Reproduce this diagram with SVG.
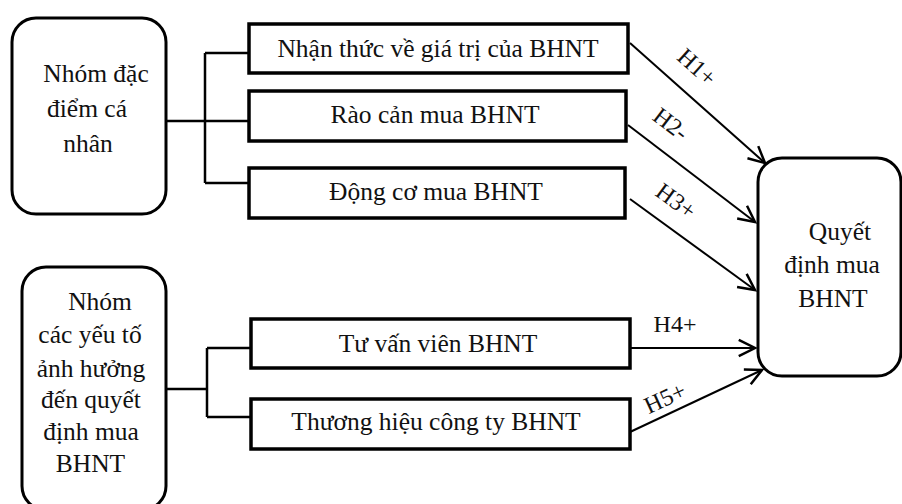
<svg xmlns="http://www.w3.org/2000/svg" width="902" height="504" viewBox="0 0 902 504">
<defs>
<style>
text{font-family:'Liberation Serif','Times New Roman',serif;font-size:25.5px;fill:#111;text-anchor:middle}
.lbl{font-size:24px}
.rbox{fill:#fff;stroke:#000;stroke-width:3}
.box{fill:#fff;stroke:#000;stroke-width:3.5}
.conn{fill:none;stroke:#000;stroke-width:2.5}
.arr{fill:none;stroke:#000;stroke-width:2;marker-end:url(#ah)}
</style>
<marker id="ah" markerUnits="userSpaceOnUse" markerWidth="20" markerHeight="20" viewBox="-14 -8 16 16" refX="0" refY="0" orient="auto">
<path d="M-13,-6.5 L0,0 L-13,6.5" fill="none" stroke="#000" stroke-width="2"/>
</marker>
</defs>
<rect width="902" height="504" fill="#fff"/>
<g id="connectors">
<path class="conn" d="M166,121 H249 M205,53 V183 M205,53 H249 M205,183 H249"/>
<path class="conn" d="M166,389 H207 M207,348 V417 M207,348 H251 M207,417 H251"/>
<line class="arr" x1="630" y1="43" x2="765" y2="163"/>
<line class="arr" x1="628" y1="125" x2="755" y2="222"/>
<line class="arr" x1="630" y1="199" x2="755" y2="290"/>
<line class="arr" x1="630" y1="348" x2="755" y2="348"/>
<line class="arr" x1="630" y1="432" x2="762" y2="370"/>
<text class="lbl" transform="translate(697,67) rotate(41.8)" y="8">H1+</text>
<text class="lbl" transform="translate(671,124) rotate(37.4)" y="8">H2-</text>
<text class="lbl" transform="translate(676,201) rotate(36)" y="8">H3+</text>
<text class="lbl" x="675" y="332">H4+</text>
<text class="lbl" transform="translate(665,398) rotate(-24.6)" y="8">H5+</text>
</g>
<g id="group1">
<rect class="rbox" x="12" y="18" width="154" height="196" rx="24"/>
<text x="96" y="82">Nhóm đặc</text>
<text x="87" y="117">điểm cá</text>
<text x="88" y="152">nhân</text>
</g>
<g id="group2">
<rect class="rbox" x="22" y="267" width="144" height="243" rx="24"/>
<text x="100" y="310">Nhóm</text>
<text x="90" y="343">các yếu tố</text>
<text x="91" y="377">ảnh hưởng</text>
<text x="91" y="408">đến quyết</text>
<text x="91" y="440">định mua</text>
<text x="90.5" y="472">BHNT</text>
</g>
<g id="nhanthuc">
<rect class="box" x="249" y="24" width="379" height="49"/>
<text x="438" y="57">Nhận thức về giá trị của BHNT</text>
</g>
<g id="raocan">
<rect class="box" x="249" y="91" width="377" height="50"/>
<text x="435" y="123">Rào cản mua BHNT</text>
</g>
<g id="dongco">
<rect class="box" x="249" y="168" width="376" height="50"/>
<text x="436" y="200">Động cơ mua BHNT</text>
</g>
<g id="tuvan">
<rect class="box" x="251" y="319" width="379" height="49"/>
<text x="438" y="352">Tư vấn viên BHNT</text>
</g>
<g id="thuonghieu">
<rect class="box" x="251" y="399" width="379" height="50"/>
<text x="436" y="430">Thương hiệu công ty BHNT</text>
</g>
<g id="quyetdinh">
<rect class="rbox" x="758" y="158" width="143" height="218" rx="24"/>
<text x="840" y="240">Quyết</text>
<text x="832" y="273">định mua</text>
<text x="833" y="307">BHNT</text>
</g>
</svg>
